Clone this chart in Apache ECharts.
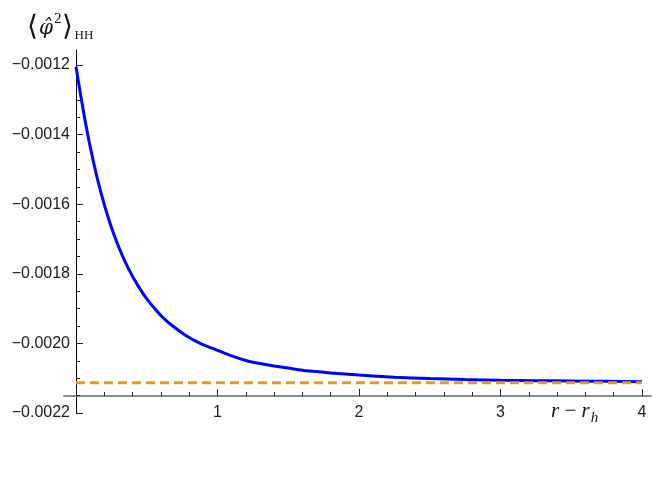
<!DOCTYPE html>
<html>
<head>
<meta charset="utf-8">
<script src="https://cdn.jsdelivr.net/npm/echarts@6/dist/echarts.min.js"></script>
<style>
html,body{margin:0;padding:0;background:#fff;}
#chart{width:664px;height:498px;}
</style>
</head>
<body>
<div id="chart"></div>
<script>
// r - r_h values
const xValues = [0, 0.05, 0.1, 0.15, 0.2, 0.25, 0.3, 0.35, 0.4, 0.45, 0.5, 0.55, 0.6, 0.65, 0.7, 0.75, 0.8, 0.85, 0.9, 0.95, 1.0,
                 1.1, 1.2, 1.3, 1.4, 1.5, 1.6, 1.7, 1.8, 1.9, 2.0, 2.25, 2.5, 2.75, 3.0, 3.25, 3.5, 3.75, 4.0];
// <phi^2>_HH values (blue curve)
const phi2Values = [-0.001205, -0.001327, -0.001434, -0.001525, -0.001601, -0.001666, -0.001721, -0.001768, -0.001808, -0.001842, -0.001872,
                    -0.001897, -0.001920, -0.001939, -0.001955, -0.001970, -0.001983, -0.001994, -0.002004, -0.002012, -0.002020,
                    -0.002036, -0.002049, -0.002058, -0.002065, -0.002071, -0.002077, -0.002081, -0.002085, -0.002088, -0.002091,
                    -0.002097, -0.002101, -0.002104, -0.002106, -0.002107, -0.002108, -0.002109, -0.002110];
// asymptotic value (orange dashed)
const asymptoteX = [0, 4];
const asymptoteValue = -0.002113;
// axis ranges
const xRange = [0, 4];
const yRange = [-0.0022, -0.0012];
const yStep = 0.0002;
const xStep = 1;

const curve = xValues.map((x, i) => [x, phi2Values[i]]);
const asym = asymptoteX.map(x => [x, asymptoteValue]);

const tickFont = {fontFamily: 'Liberation Sans', fontSize: 16, color: '#1a1a1a'};

const chart = echarts.init(document.getElementById('chart'), null, {renderer: 'canvas'});
chart.setOption({
  animation: false,
  backgroundColor: '#ffffff',
  title: [
    {
      left: 22, top: 1,
      text: '{a|⟨}{b|φ̂}{c|2}{a|⟩}{d|HH}',
      textStyle: {
        fontWeight: 'normal',
        rich: {
          a: {fontFamily: 'Liberation Serif', fontWeight: 'normal', fontSize: 28, color: '#111', lineHeight: 36, verticalAlign: 'bottom'},
          b: {fontFamily: 'DejaVu Serif', fontStyle: 'italic', fontWeight: 'normal', fontSize: 20, color: '#111', lineHeight: 36, verticalAlign: 'bottom', padding: [0, 1, 3, 1]},
          c: {fontFamily: 'Liberation Serif', fontWeight: 'normal', fontSize: 15, color: '#111', lineHeight: 36, verticalAlign: 'top', padding: [6, 0, 0, 0]},
          d: {fontFamily: 'Liberation Serif', fontWeight: 'normal', fontSize: 13, color: '#111', lineHeight: 36, verticalAlign: 'bottom', padding: [0, 0, 0, 2]}
        }
      }
    },
    {
      left: 546, top: 393,
      text: '{r|r}{m| − }{r|r}{s|h}',
      textStyle: {
        fontWeight: 'normal',
        rich: {
          r: {fontFamily: 'Liberation Serif', fontStyle: 'italic', fontWeight: 'normal', fontSize: 21, color: '#111', lineHeight: 24, verticalAlign: 'bottom'},
          m: {fontFamily: 'Liberation Serif', fontWeight: 'normal', fontSize: 21, color: '#111', lineHeight: 24, verticalAlign: 'bottom'},
          s: {fontFamily: 'Liberation Serif', fontStyle: 'italic', fontWeight: 'normal', fontSize: 15, color: '#111', lineHeight: 24, verticalAlign: 'bottom', padding: [0, 0, -4, 1]}
        }
      }
    }
  ],
  grid: [
    {left: 76, top: 65, width: 566, height: 348},   // data
    {left: 76, top: 65, width: 566, height: 331},   // x ticks/labels
    {left: 64, top: 50, width: 587, height: 346},   // x axis line
    {left: 76, top: 50, width: 566, height: 363}    // y axis line
  ],
  xAxis: [
    {gridIndex: 0, type: 'value', min: xRange[0], max: xRange[1], show: false},
    {
      gridIndex: 1, type: 'value', min: xRange[0], max: xRange[1], interval: xStep,
      axisLine: {show: false},
      axisTick: {show: true, inside: true, length: 7, lineStyle: {color: '#222', width: 1}},
      minorTick: {show: true, splitNumber: 5, length: 4, lineStyle: {color: '#222', width: 1}},
      splitLine: {show: false},
      axisLabel: Object.assign({margin: 9, formatter: v => v === 0 ? '' : String(v)}, tickFont)
    },
    {
      gridIndex: 2, type: 'value', min: 0, max: 1,
      axisLine: {show: true, lineStyle: {color: '#8a8a8a', width: 2}},
      axisTick: {show: false}, axisLabel: {show: false}, splitLine: {show: false}
    },
    {gridIndex: 3, type: 'value', min: 0, max: 1, show: false}
  ],
  yAxis: [
    {
      gridIndex: 0, type: 'value', min: yRange[0], max: yRange[1], interval: yStep,
      axisLine: {show: false},
      axisTick: {show: true, inside: true, length: 7, lineStyle: {color: '#222', width: 1}},
      minorTick: {show: true, splitNumber: 4, length: 4, lineStyle: {color: '#222', width: 1}},
      splitLine: {show: false},
      axisLabel: Object.assign({margin: 6, formatter: v => v.toFixed(4).replace('-', '−')}, tickFont)
    },
    {gridIndex: 1, type: 'value', min: 0, max: 1, show: false},
    {gridIndex: 2, type: 'value', min: 0, max: 1, show: false},
    {
      gridIndex: 3, type: 'value', min: 0, max: 1,
      axisLine: {show: true, lineStyle: {color: '#000', width: 1}},
      axisTick: {show: false}, axisLabel: {show: false}, splitLine: {show: false}
    }
  ],
  series: [
    {
      type: 'line', xAxisIndex: 0, yAxisIndex: 0, data: curve,
      showSymbol: false, smooth: 0.25,
      lineStyle: {color: '#0000ff', width: 3}, z: 3
    },
    {
      type: 'line', xAxisIndex: 0, yAxisIndex: 0, data: asym,
      showSymbol: false,
      lineStyle: {color: '#e09c24', width: 3, type: [9, 5]}, z: 4
    }
  ]
});
</script>
</body>
</html>
